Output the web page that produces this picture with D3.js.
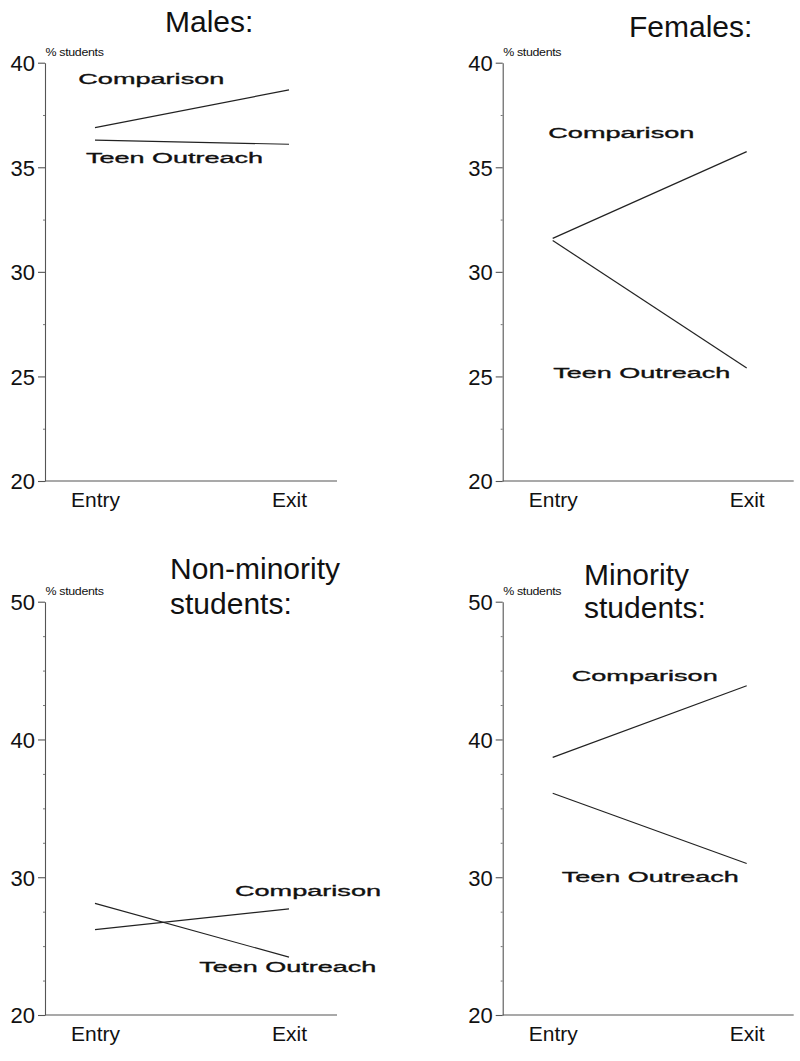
<!DOCTYPE html>
<html>
<head>
<meta charset="utf-8">
<script src="https://cdn.jsdelivr.net/npm/d3@7"></script>
<style>
  html, body { margin: 0; padding: 0; background: #fff; }
  svg { display: block; }
  text { font-family: "Liberation Sans", Arial, Helvetica, sans-serif; fill: #111; }
</style>
</head>
<body>
<svg id="chart" width="800" height="1061"></svg>
<script>
// ---------- data ----------
const categories = ["Entry", "Exit"];
const seriesNames = ["Comparison", "Teen Outreach"];
const panelTitles = [["Males:"], ["Females:"], ["Non-minority", "students:"], ["Minority", "students:"]];
const yDomains = [[20, 40], [20, 40], [20, 50], [20, 50]];
const majorTicks = [[20, 25, 30, 35, 40], [20, 25, 30, 35, 40], [20, 30, 40, 50], [20, 30, 40, 50]];
const minorTicks = [
  [22.5, 27.5, 32.5, 37.5],
  [22.5, 27.5, 32.5, 37.5],
  [22.5, 25, 27.5, 32.5, 35, 37.5, 42.5, 45, 47.5],
  [22.5, 25, 27.5, 32.5, 35, 37.5, 42.5, 45, 47.5]
];
const comparisonValues = [[36.9, 38.7], [31.6, 35.75], [26.2, 27.7], [38.7, 43.9]];
const teenOutreachValues = [[36.3, 36.1], [31.5, 25.4], [28.1, 24.2], [36.1, 31.0]];
const yAxisLabel = "% students";

// ---------- layout (positions / styles only) ----------
const panels = [
  { left: 45,    top: 62.7,  bottom: 481,  width: 292, title: { x: 165,   y: [32.3] } },
  { left: 502.7, top: 62.7,  bottom: 481,  width: 291, title: { x: 629,   y: [37.3] } },
  { left: 45,    top: 601.7, bottom: 1015, width: 292, title: { x: 170,   y: [579, 614] } },
  { left: 502.7, top: 601.7, bottom: 1015, width: 291, title: { x: 584,   y: [585, 618.3] } }
];
// series label anchors: [x offset from axis (px), y in data units]
const labelAnchors = [
  [[33.3, 39.0], [41, 35.2]],
  [[45.6, 36.42], [50.6, 24.91]],
  [[190, 28.64], [154.3, 23.14]],
  [[69, 44.26], [59, 29.67]]
];
const labelWidths = { "Comparison": 146, "Teen Outreach": 177 };

const svg = d3.select("#chart");

panels.forEach((p, i) => {
  const g = svg.append("g").attr("transform", `translate(${p.left},0)`);
  const y = d3.scaleLinear().domain(yDomains[i]).range([p.bottom, p.top]);
  const x = d3.scalePoint().domain(categories).range([50, 244]);

  // y axis
  const yAxis = d3.axisLeft(y)
    .tickValues(majorTicks[i])
    .tickSize(7)
    .tickSizeOuter(0)
    .tickPadding(3)
    .tickFormat(d3.format("d"));
  const ya = g.append("g").call(yAxis);
  ya.select(".domain").attr("stroke", "#555").attr("stroke-width", 1.1);
  ya.selectAll(".tick line").attr("stroke", "#555").attr("stroke-width", 1.1);
  ya.selectAll(".tick text")
    .attr("font-size", 22)
    .attr("font-family", "'Liberation Sans', Arial, sans-serif")
    .attr("fill", "#111")
    .attr("dy", "0.36em");

  // minor ticks
  const yMinor = d3.axisLeft(y).tickValues(minorTicks[i]).tickSize(2).tickSizeOuter(0).tickFormat("");
  const ym = g.append("g").call(yMinor);
  ym.select(".domain").remove();
  ym.selectAll(".tick line").attr("stroke", "#777").attr("stroke-width", 1);

  // x axis baseline
  const xLine = d3.scaleLinear().domain([0, 1]).range([0, p.width]);
  g.append("line")
    .attr("x1", xLine(0)).attr("x2", xLine(1))
    .attr("y1", y(yDomains[i][0])).attr("y2", y(yDomains[i][0]))
    .attr("stroke", "#555").attr("stroke-width", 1.1);

  // x category labels
  const xAxis = d3.axisBottom(x).tickSize(0).tickPadding(0);
  const xa = g.append("g").attr("transform", `translate(0,${y(yDomains[i][0])})`).call(xAxis);
  xa.select(".domain").remove();
  xa.selectAll(".tick text")
    .attr("font-size", 21)
    .attr("font-family", "'Liberation Sans', Arial, sans-serif")
    .attr("fill", "#111")
    .attr("dy", "1.24em");

  // % students label
  g.append("text")
    .attr("x", 0.5)
    .attr("y", p.top - 6.5)
    .attr("font-size", 11)
    .attr("textLength", 58)
    .attr("lengthAdjust", "spacingAndGlyphs")
    .attr("letter-spacing", -0.3)
    .text(yAxisLabel);

  // data lines
  const line = d3.line().x((d, j) => x(categories[j])).y(d => y(d));
  [comparisonValues[i], teenOutreachValues[i]].forEach(vals => {
    g.append("path")
      .datum(vals)
      .attr("d", line)
      .attr("fill", "none")
      .attr("stroke", "#222")
      .attr("stroke-width", 1.2);
  });

  // series labels
  seriesNames.forEach((name, k) => {
    const a = labelAnchors[i][k];
    g.append("text")
      .attr("x", a[0])
      .attr("y", y(a[1]))
      .attr("font-size", 15.5)
      .attr("textLength", labelWidths[name])
      .attr("lengthAdjust", "spacingAndGlyphs")
      .attr("stroke", "#111")
      .attr("stroke-width", 0.35)
      .text(name);
  });

  // panel title
  panelTitles[i].forEach((t, k) => {
    svg.append("text")
      .attr("x", p.title.x)
      .attr("y", p.title.y[k])
      .attr("font-size", 30)
      .text(t);
  });
});
</script>
</body>
</html>
